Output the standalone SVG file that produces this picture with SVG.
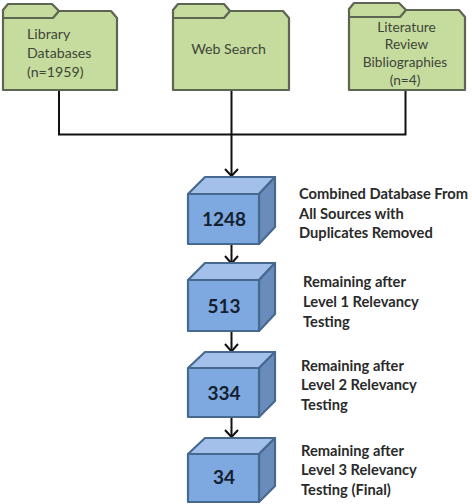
<svg xmlns="http://www.w3.org/2000/svg" width="472" height="504" viewBox="0 0 472 504">
<style>
text{font-family:Lato,"Liberation Sans",sans-serif;fill:#262626}
.folder{fill:#c6dc9e;stroke:#5c6652;stroke-width:2.200;stroke-linejoin:round}
.tabline{fill:none;stroke:#5c6652;stroke-width:2.200;stroke-linejoin:round}
.ft{font-size:14.200px;fill:#3e4538}
.fs{font-size:13.700px;fill:#3e4538;text-anchor:middle}
.front{fill:#7ea9e0;stroke:#47698f;stroke-width:2.200;stroke-linejoin:round}
.top{fill:#a2c0ea;stroke:#47698f;stroke-width:2.200;stroke-linejoin:round}
.side{fill:#6a8cbc;stroke:#47698f;stroke-width:2.200;stroke-linejoin:round}
.num{font-size:19px;font-weight:700;text-anchor:middle;fill:#14202e}
.lbl{font-size:14.700px;font-weight:700;fill:#2a2a2a}
.conn{fill:none;stroke:#111;stroke-width:2}
</style>
<g id="connectors">
<path class="conn" d="M59 90V134.500H405.500V90"/>
<path class="conn" d="M231.500 90V176"/>
<path class="conn" d="M231.500 244V264"/>
<path class="conn" d="M231.500 331V352"/>
<path class="conn" d="M231.500 417V437"/>
<path class="conn" d="M225 169L231.500 176L238 169"/>
<path class="conn" d="M225 256L231.500 263.500L238 256"/>
<path class="conn" d="M225 344L231.500 351.500L238 344"/>
<path class="conn" d="M225 430L231.500 437L238 430"/>
</g>
<g id="folder-library">
<path class="folder" d="M3 10L8 4H52L59 11H111L117 18V90H3Z"/>
<path class="tabline" d="M3 18H53L59 11"/>
<text class="ft" x="27" y="39">Library</text>
<text class="ft" x="27" y="58">Databases</text>
<text class="ft" x="27" y="77">(n=1959)</text>
</g>
<g id="folder-web">
<path class="folder" d="M173 10L178 4H224L230 11H283L289 18V90H173Z"/>
<path class="tabline" d="M173 18H224L230 11"/>
<text class="ft" x="228.500" y="54" text-anchor="middle">Web Search</text>
</g>
<g id="folder-lit">
<path class="folder" d="M349 9L354 3H399L406 10H459L465 17V90H349Z"/>
<path class="tabline" d="M349 17H400L406 10"/>
<text class="fs" x="406.500" y="32">Literature</text>
<text class="fs" x="406.500" y="49">Review</text>
<text class="fs" x="405" y="67">Bibliographies</text>
<text class="fs" x="405" y="85">(n=4)</text>
</g>
<g id="box-1248">
<path class="top" d="M188 194L205 177H275L259 194Z"/>
<path class="side" d="M259 194L275 177V227L259 244Z"/>
<rect class="front" x="188" y="194" width="71" height="50"/>
<text class="num" x="224" y="226">1248</text>
<text class="lbl" x="299" y="199">Combined Database From</text>
<text class="lbl" x="299" y="219">All Sources with</text>
<text class="lbl" x="299" y="238">Duplicates Removed</text>
</g>
<g id="box-513">
<path class="top" d="M188 280L205 263H275L259 280Z"/>
<path class="side" d="M259 280L275 263V314L259 331Z"/>
<rect class="front" x="188" y="280" width="71" height="51"/>
<text class="num" x="224" y="313">513</text>
<text class="lbl" x="303" y="287">Remaining after</text>
<text class="lbl" x="303" y="307">Level 1 Relevancy</text>
<text class="lbl" x="303" y="327">Testing</text>
</g>
<g id="box-334">
<path class="top" d="M188 368L205 352H275L259 368Z"/>
<path class="side" d="M259 368L275 352V401L259 417Z"/>
<rect class="front" x="188" y="368" width="71" height="49"/>
<text class="num" x="224" y="400">334</text>
<text class="lbl" x="301" y="371">Remaining after</text>
<text class="lbl" x="301" y="390">Level 2 Relevancy</text>
<text class="lbl" x="301" y="410">Testing</text>
</g>
<g id="box-34">
<path class="top" d="M188 454L205 438H275L259 454Z"/>
<path class="side" d="M259 454L275 438V486L259 502Z"/>
<rect class="front" x="188" y="454" width="71" height="48"/>
<text class="num" x="224" y="484">34</text>
<text class="lbl" x="301" y="456">Remaining after</text>
<text class="lbl" x="301" y="475">Level 3 Relevancy</text>
<text class="lbl" x="301" y="495">Testing (Final)</text>
</g>
</svg>
